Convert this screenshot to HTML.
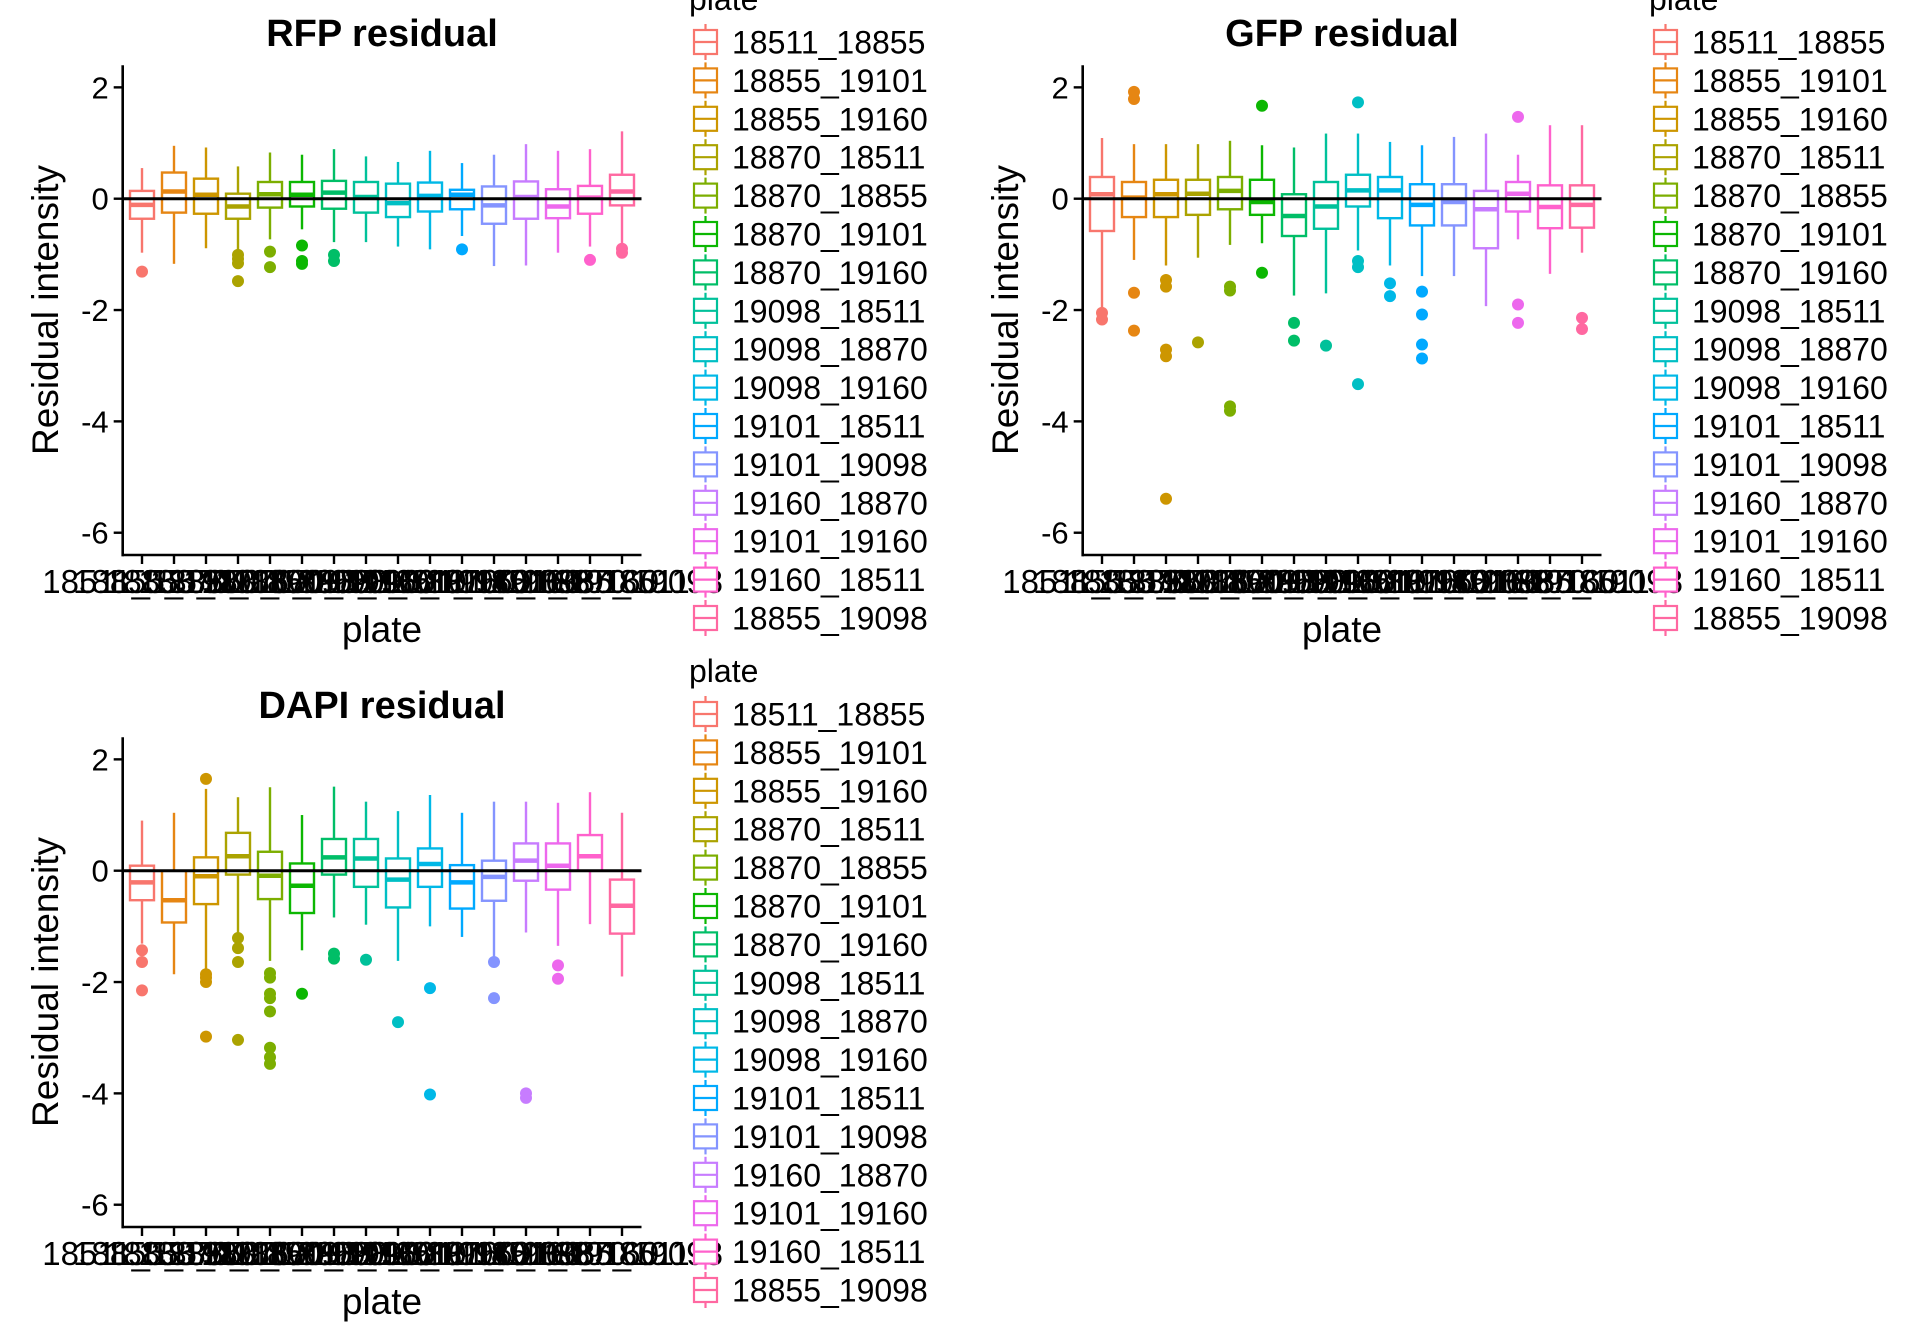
<!DOCTYPE html>
<html><head><meta charset="utf-8"><style>
html,body{margin:0;padding:0;background:#fff}
svg{display:block;font-family:"Liberation Sans",Arial,sans-serif}
</style></head><body>
<svg id="chart" xmlns="http://www.w3.org/2000/svg" width="1920" height="1344" viewBox="0 0 1920 1344"></svg>
<script>
const plates = ["18511_18855","18855_19101","18855_19160","18870_18511","18870_18855","18870_19101","18870_19160","19098_18511","19098_18870","19098_19160","19101_18511","19101_19098","19160_18870","19101_19160","19160_18511","18855_19098"];
const colors = ["#F8766D","#E68613","#CD9600","#ABA300","#7CAE00","#0CB702","#00BE67","#00C19A","#00BFC4","#00B8E7","#00A9FF","#8494FF","#C77CFF","#ED68ED","#FF61CC","#FF68A1"];
const yTicks = [2,0,-2,-4,-6];
// each box: [whiskerTop, q3, median, q1, whiskerBottom]
const rfpBoxes = [[0.55,0.14,-0.11,-0.36,-0.97],[0.95,0.47,0.13,-0.25,-1.17],[0.92,0.36,0.07,-0.27,-0.89],[0.58,0.09,-0.14,-0.36,-0.97],[0.83,0.30,0.08,-0.16,-0.73],[0.79,0.30,0.07,-0.14,-0.55],[0.89,0.32,0.11,-0.18,-0.78],[0.76,0.30,0.03,-0.25,-0.78],[0.66,0.27,-0.08,-0.33,-0.86],[0.86,0.29,0.05,-0.23,-0.91],[0.64,0.16,0.07,-0.19,-0.67],[0.79,0.22,-0.12,-0.45,-1.21],[0.98,0.31,0.03,-0.36,-1.2],[0.86,0.17,-0.14,-0.35,-0.97],[0.89,0.23,0.02,-0.27,-0.86],[1.21,0.43,0.13,-0.12,-0.89]];
const rfpOutliers = [[-1.31],[],[],[-1.01,-1.08,-1.16,-1.48],[-0.95,-1.23],[-0.84,-1.12,-1.17],[-1.01,-1.12],[],[],[],[-0.91],[],[],[],[-1.1],[-0.9,-0.97]];
const gfpBoxes = [[1.09,0.39,0.08,-0.58,-2.03],[0.98,0.30,0.02,-0.33,-1.1],[0.98,0.34,0.08,-0.33,-1.2],[0.98,0.34,0.09,-0.29,-1.06],[1.04,0.39,0.14,-0.19,-0.83],[0.96,0.34,-0.06,-0.29,-0.8],[0.92,0.08,-0.31,-0.67,-1.74],[1.17,0.30,-0.14,-0.54,-1.7],[1.17,0.43,0.15,-0.14,-0.93],[1.02,0.39,0.15,-0.35,-1.2],[0.96,0.26,-0.11,-0.48,-1.39],[1.11,0.26,-0.06,-0.48,-1.39],[1.17,0.14,-0.19,-0.89,-1.93],[0.79,0.30,0.09,-0.23,-0.73],[1.32,0.24,-0.15,-0.53,-1.35],[1.32,0.24,-0.11,-0.52,-0.97]];
const gfpOutliers = [[-2.05,-2.17],[1.92,1.79,-1.69,-2.37],[-1.46,-1.58,-2.71,-2.83,-5.39],[-2.58],[-1.58,-1.65,-3.73,-3.81],[1.67,-1.33],[-2.23,-2.55],[-2.64],[1.73,-1.12,-1.23,-3.33],[-1.52,-1.75],[-1.67,-2.08,-2.62,-2.87],[],[],[1.47,-1.9,-2.23],[],[-2.14,-2.34]];
const dapiBoxes = [[0.9,0.09,-0.21,-0.53,-1.31],[1.04,0.0,-0.53,-0.93,-1.86],[1.47,0.24,-0.1,-0.6,-1.82],[1.32,0.68,0.26,-0.07,-1.11],[1.5,0.34,-0.09,-0.51,-1.62],[1.0,0.13,-0.27,-0.76,-1.43],[1.51,0.57,0.24,-0.07,-0.84],[1.24,0.57,0.22,-0.29,-0.97],[1.07,0.22,-0.16,-0.66,-1.62],[1.36,0.4,0.12,-0.29,-1.0],[1.04,0.1,-0.21,-0.68,-1.19],[1.24,0.18,-0.11,-0.54,-1.55],[1.24,0.49,0.18,-0.18,-1.11],[1.22,0.49,0.09,-0.34,-1.35],[1.41,0.64,0.26,0.0,-0.96],[1.04,-0.16,-0.63,-1.13,-1.9]];
const dapiOutliers = [[-1.43,-1.64,-2.15],[],[1.65,-1.86,-1.92,-2.0,-2.98],[-1.21,-1.39,-1.64,-3.04],[-1.84,-1.92,-2.21,-2.29,-2.53,-3.18,-3.35,-3.47],[-2.21],[-1.49,-1.58],[-1.6],[-2.72],[-2.11,-4.02],[],[-1.64,-2.29],[-4.0,-4.08],[-1.7,-1.94],[],[]];

const NS="http://www.w3.org/2000/svg";
const svg=document.getElementById('chart');
function mk(tag,attrs,parent,text){const e=document.createElementNS(NS,tag);for(const k in attrs)e.setAttribute(k,attrs[k]);if(text!==undefined)e.textContent=text;(parent||svg).appendChild(e);return e;}

function panel(ox,oy,title,boxes,outliers,key){
  const g=mk('g',{});
  
  
  const x0=122.7+ox, x1=641.5+ox, yTop=65.3+oy, yBot=555+oy;
  const yScale=v=>198.7+oy-v*55.67;
  const xScale=i=>142+ox+32*i;
  const t=mk('text',{x:382+ox,y:46+oy,'text-anchor':'middle','font-size':38,'font-weight':'bold'},g,title);
  
  
  boxes.forEach((b,i)=>{
    const c=colors[i], cx=xScale(i), hw=12;
    const bg=mk('g',{},g);
    
    
    mk('line',{x1:cx,x2:cx,y1:yScale(b[0]),y2:yScale(b[1]),stroke:c,'stroke-width':2.4},bg);
    mk('line',{x1:cx,x2:cx,y1:yScale(b[3]),y2:yScale(b[4]),stroke:c,'stroke-width':2.4},bg);
    mk('rect',{x:cx-hw,y:yScale(b[1]),width:2*hw,height:yScale(b[3])-yScale(b[1]),fill:'#fff',stroke:c,'stroke-width':2.4},bg);
    mk('line',{x1:cx-hw,x2:cx+hw,y1:yScale(b[2]),y2:yScale(b[2]),stroke:c,'stroke-width':4.5},bg);
    outliers[i].forEach(v=>{
      const p=mk('circle',{cx:cx,cy:yScale(v),r:6,fill:c},bg);
      
      
    });
  });
  const z=mk('line',{x1:x0,x2:x1,y1:yScale(0),y2:yScale(0),stroke:'#000','stroke-width':3},g);
  
  
  const ya=mk('line',{x1:x0,x2:x0,y1:yTop,y2:yBot+1.2,stroke:'#000','stroke-width':2.6},g);
  
  
  const xa=mk('line',{x1:x0-1.2,x2:x1,y1:yBot,y2:yBot,stroke:'#000','stroke-width':2.6},g);
  
  
  yTicks.forEach(v=>{
    mk('line',{x1:x0-9,x2:x0,y1:yScale(v),y2:yScale(v),stroke:'#000','stroke-width':2.4},g);
    const l=mk('text',{x:x0-14,y:yScale(v)+11,'text-anchor':'end','font-size':31},g,String(v));
    
    
  });
  plates.forEach((p,i)=>{
    mk('line',{x1:xScale(i),x2:xScale(i),y1:yBot,y2:yBot+9,stroke:'#000','stroke-width':2.4},g);
    const l=mk('text',{x:xScale(i),y:yBot+38,'text-anchor':'middle','font-size':33},g,p);
    
    
  });
  const xt=mk('text',{x:382+ox,y:642+oy,'text-anchor':'middle','font-size':37},g,'plate');
  
  
  const yt=mk('text',{x:0,y:0,'text-anchor':'middle','font-size':37,transform:`translate(${58+ox},${310+oy}) rotate(-90)`},g,'Residual intensity');
  
  
}

function legend(ox,titleY,key){
  const g=mk('g',{});
  
  
  const t=mk('text',{x:689+ox,y:titleY,'font-size':32},g,'plate');
  
  
  plates.forEach((p,i)=>{
    const cy=titleY+32+i*38.4, c=colors[i];
    const e=mk('g',{},g);
    
    
    mk('line',{x1:705.5+ox,x2:705.5+ox,y1:cy-18,y2:cy+18,stroke:c,'stroke-width':2.2},e);
    mk('rect',{x:694+ox,y:cy-12,width:23,height:24,fill:'#fff',stroke:c,'stroke-width':2.2},e);
    mk('line',{x1:694+ox,x2:717+ox,y1:cy,y2:cy,stroke:c,'stroke-width':2.2},e);
    mk('text',{x:732+ox,y:cy+11.5,'font-size':32},e,p);
  });
}

panel(0,0,'RFP residual',rfpBoxes,rfpOutliers,'rfp');
panel(960,0,'GFP residual',gfpBoxes,gfpOutliers,'gfp');
panel(0,672,'DAPI residual',dapiBoxes,dapiOutliers,'dapi');
legend(0,10,'rfp');
legend(960,10,'gfp');
legend(0,682,'dapi');
</script>
</body></html>
